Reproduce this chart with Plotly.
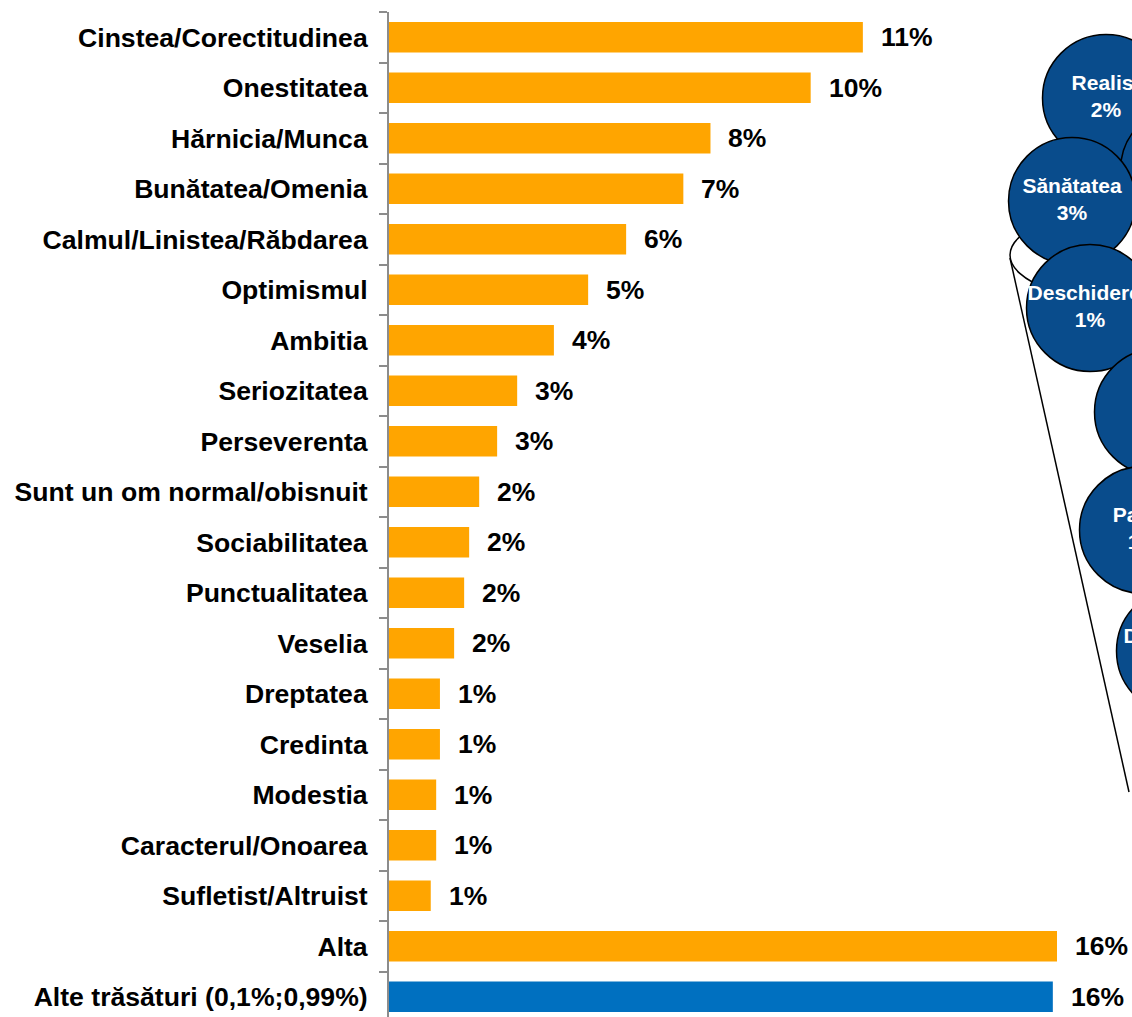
import plotly.graph_objects as go

# ---- data ----
categories = [
    "Cinstea/Corectitudinea",
    "Onestitatea",
    "Hărnicia/Munca",
    "Bunătatea/Omenia",
    "Calmul/Linistea/Răbdarea",
    "Optimismul",
    "Ambitia",
    "Seriozitatea",
    "Perseverenta",
    "Sunt un om normal/obisnuit",
    "Sociabilitatea",
    "Punctualitatea",
    "Veselia",
    "Dreptatea",
    "Credinta",
    "Modestia",
    "Caracterul/Onoarea",
    "Sufletist/Altruist",
    "Alta",
    "Alte trăsături (0,1%;0,99%)",
]
values = [11.35, 10.1, 7.7, 7.05, 5.68, 4.77, 3.95, 3.07, 2.59, 2.16,
          1.92, 1.8, 1.56, 1.22, 1.22, 1.13, 1.13, 1.0, 16.0, 15.9]

# bubble illustration (right side, partly cut off in the original)
bubble_labels = ["Realist", "", "Sănătatea", "Deschiderea", "", "Pacea", "Demnitatea"]
bubble_values = [2, None, 3, 1, None, 1, 1]

# ---- layout / style (kept apart from data) ----
ORANGE = "#FFA500"
BLUE = "#0070C0"
BUBBLE = "#094C8C"
AXIS_GRAY = "#8C8C8C"
FONT = "Liberation Sans, Arial"

W, H = 1132, 1017
AXIS_X, TOP_Y = 389, 12       # pixel position of the axis line / plot top
PX_PER_UNIT = 41.75
ROW_PX = 50.5

bar_colors = [ORANGE] * (len(categories) - 1) + [BLUE]

# bubble positions in pixel space of the overlay axes
bubble_x = [1106, 1184, 1072, 1090, 1158, 1143, 1180]
bubble_y = [98, 170, 201, 308, 412, 530, 651]
bubble_d = 127

fig = go.Figure()

fig.add_trace(go.Bar(
    x=values, y=categories, orientation="h",
    marker=dict(color=bar_colors, line=dict(width=0)),
    hoverinfo="skip", showlegend=False,
))

bubble_text = [f"{l}<br>{v}%" if l else "" for l, v in zip(bubble_labels, bubble_values)]
fig.add_trace(go.Scatter(
    x=bubble_x, y=bubble_y, xaxis="x2", yaxis="y2",
    mode="markers+text",
    text=bubble_text, textposition="middle center",
    textfont=dict(family=FONT, size=21, color="white", weight="bold"),
    marker=dict(size=bubble_d, color=BUBBLE, line=dict(color="black", width=1.5)),
    cliponaxis=True, hoverinfo="skip", showlegend=False,
))

annotations = []
for c, v in zip(categories, values):
    annotations.append(dict(
        x=v, y=c, xref="x", yref="y",
        text=f"{round(v)}%", showarrow=False,
        xanchor="left", yanchor="middle", xshift=16,
        font=dict(family=FONT, size=26.5, color="black", weight="bold"),
    ))

shapes = [
    # cone of the ice-cream illustration
    dict(type="line", xref="x2", yref="y2", x0=1010, y0=258, x1=1129, y1=792,
         line=dict(color="black", width=1.5), layer="below"),
    dict(type="circle", xref="x2", yref="y2", x0=1010, x1=1290, y0=205, y1=305,
         fillcolor="white", line=dict(color="black", width=1.5), layer="below"),
]

n_rows = (H - TOP_Y) / ROW_PX

fig.update_layout(
    width=W, height=H,
    margin=dict(l=AXIS_X, r=0, t=TOP_Y, b=0, pad=0),
    paper_bgcolor="white", plot_bgcolor="white",
    bargap=0.4,
    xaxis=dict(visible=False, range=[0, (W - AXIS_X) / PX_PER_UNIT], fixedrange=True),
    yaxis=dict(
        type="category",
        categoryorder="array", categoryarray=categories,
        range=[n_rows - 0.5, -0.5],
        showline=True, linecolor=AXIS_GRAY, linewidth=2,
        ticks="outside", ticklen=8, tickwidth=2, tickcolor=AXIS_GRAY,
        tickson="boundaries", showgrid=False, zeroline=False,
        ticklabelstandoff=14,
        tickfont=dict(family=FONT, size=26.6, color="black", weight="bold"),
    ),
    xaxis2=dict(overlaying="x", anchor="y2", range=[AXIS_X, W], visible=False, fixedrange=True),
    yaxis2=dict(overlaying="y", anchor="x2", range=[H, TOP_Y], visible=False, fixedrange=True),
    annotations=annotations,
    shapes=shapes,
    font=dict(family=FONT),
)

# the figure fills the window exactly: drop the default page margin
fig.write_html(
    "out.html",
    config={"displayModeBar": False},
    post_script=(
        "document.body.style.margin='0';"
        "document.documentElement.style.overflow='hidden';"
        "document.body.style.overflow='hidden';"
    ),
)
